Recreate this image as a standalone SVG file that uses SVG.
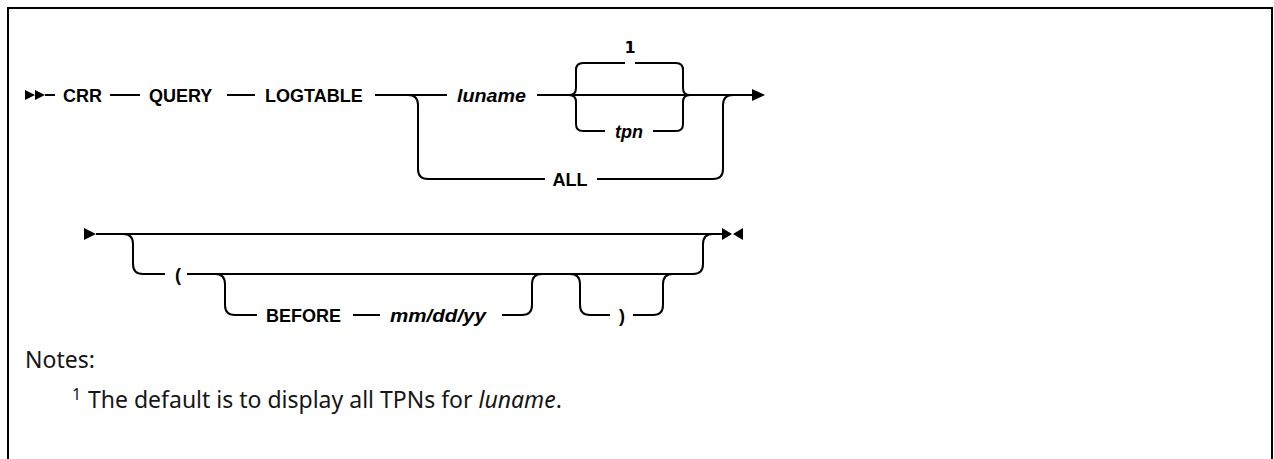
<svg xmlns="http://www.w3.org/2000/svg" width="1274" height="459" viewBox="0 0 1274 459">
<style>
.kw{font-family:"Liberation Sans",Arial,sans-serif;font-weight:bold;font-size:18px;fill:#000}
.var{font-family:"Liberation Sans",Arial,sans-serif;font-weight:bold;font-style:italic;font-size:18px;fill:#000}
.note{font-family:"Noto Sans","Open Sans",sans-serif;font-size:23px;fill:#161616}
.ln{fill:none;stroke:#000;stroke-width:2}
.ah{fill:#000;stroke:none}
</style>
<rect x="0" y="0" width="1274" height="459" fill="#fff"/>
<path d="M8,459 V8 H1272 V459" fill="none" stroke="#000" stroke-width="2"/>
<g id="connectors">
  <path class="ah" d="M25,90 L35,95 L25,100 Z M35,90 L45,95 L35,100 Z"/>
  <path class="ln" d="M45,95 H55 M110,95 H140 M227,95 H255 M375,95 H447 M537,95 H752"/>
  <path class="ah" d="M752,89 L765,95 L752,101 Z"/>
  <path class="ln" d="M408,95 Q418,95 418,105 V169 Q418,179 428,179 H545 M597,179 H713 Q723,179 723,169 V105 Q723,95 733,95"/>
  <path class="ln" d="M625,63 H583 Q576,63 576,70 V88 Q576,95 569,95 Q576,95 576,102 V124 Q576,131 583,131 H605 M653,131 H676 Q683,131 683,124 V102 Q683,95 690,95 Q683,95 683,88 V70 Q683,63 676,63 H635"/>
  <path class="ah" d="M84,228 L96,234 L84,240 Z"/>
  <path class="ln" d="M96,234 H722"/>
  <path class="ah" d="M722,228 L732,234 L722,240 Z M743,228 L733,234 L743,240 Z"/>
  <path class="ln" d="M123,234 Q133,234 133,244 V264 Q133,274 143,274 H165 M187,274 H693 Q703,274 703,264 V244 Q703,234 713,234"/>
  <path class="ln" d="M215,274 Q225,274 225,284 V305 Q225,315 235,315 H257 M353,315 H380 M502,315 H522 Q532,315 532,305 V284 Q532,274 542,274"/>
  <path class="ln" d="M570,274 Q580,274 580,284 V305 Q580,315 590,315 H610 M633,315 H653 Q663,315 663,305 V284 Q663,274 673,274"/>
</g>
<g id="n-crr"><text class="kw" x="63" y="101.5">CRR</text></g>
<g id="n-query"><text class="kw" x="149" y="101.5">QUERY</text></g>
<g id="n-logtable"><text class="kw" x="265" y="101.5">LOGTABLE</text></g>
<g id="n-luname"><text class="var" x="457" y="101.5" textLength="69" lengthAdjust="spacingAndGlyphs">luname</text></g>
<g id="n-note1"><text x="630" y="53" text-anchor="middle" style="font-family:'DejaVu Sans',sans-serif;font-weight:bold;font-size:16px">1</text></g>
<g id="n-tpn"><text class="var" x="629" y="137.5" text-anchor="middle">tpn</text></g>
<g id="n-all"><text class="kw" x="570" y="185.5" text-anchor="middle">ALL</text></g>
<g id="n-lparen"><text class="kw" x="178" y="280.5" text-anchor="middle">(</text></g>
<g id="n-before"><text class="kw" x="266" y="321.5">BEFORE</text></g>
<g id="n-date"><text class="var" x="390" y="321.5" textLength="96" lengthAdjust="spacingAndGlyphs">mm/dd/yy</text></g>
<g id="n-rparen"><text class="kw" x="622" y="321.5" text-anchor="middle">)</text></g>
<g id="notes">
  <text class="note" x="25" y="368">Notes:</text>
  <text class="note" x="72" y="408"><tspan font-size="16" dy="-8">1</tspan><tspan x="88" dy="8">The default is to display all TPNs for </tspan><tspan font-style="italic">luname</tspan>.</text>
</g>
</svg>
